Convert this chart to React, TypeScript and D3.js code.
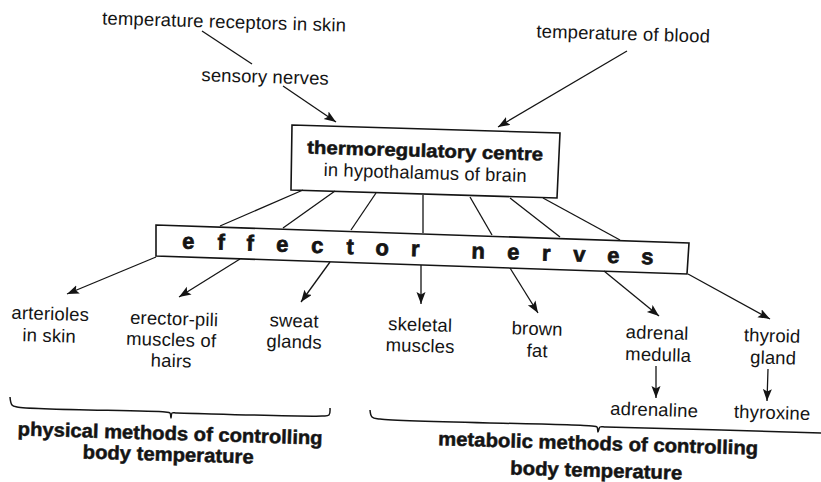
import React from "react";
import * as d3 from "d3";

// ---------- content (text only) ----------
const TOP_LABELS = ["temperature receptors in skin", "sensory nerves", "temperature of blood"];
const CENTRE_LINES = ["thermoregulatory centre", "in hypothalamus of brain"];
const EFFECTOR_LETTERS = ["e", "f", "f", "e", "c", "t", "o", "r", "n", "e", "r", "v", "e", "s"];
const EFFECTORS = [
  ["arterioles", "in skin"],
  ["erector-pili", "muscles of", "hairs"],
  ["sweat", "glands"],
  ["skeletal", "muscles"],
  ["brown", "fat"],
  ["adrenal", "medulla"],
  ["thyroid", "gland"],
];
const PRODUCTS = ["adrenaline", "thyroxine"];
const GROUPS = [
  ["physical methods of controlling", "body temperature"],
  ["metabolic methods of controlling", "body temperature"],
];

// ---------- layout (positions in page pixels) ----------
const W = 821;
const H = 482;
const TILT = 1.7;
const INK = "#141414";

const topLabelPos = [[224, 28], [265, 83], [623, 40]];
const topArrows = [
  { pts: [[202, 31], [252, 64]], head: false },
  { pts: [[283, 86], [336, 122]], head: true },
  { pts: [[627, 51], [498, 127]], head: true },
];
const centreBox = [[292, 125], [560, 133], [557, 198], [291, 190]];
const centreText = [
  { x: 425, y: 157, len: 236 },
  { x: 425, y: 179, len: 203 },
];
const effectorBox = [[156, 225], [689, 243], [687, 274], [156, 256]];
const letterX = [188, 221, 250, 282, 317, 350, 382, 415, 478, 513, 546, 579, 613, 647];
const boxTop = (x: number) => 225 + ((x - 156) * 18) / 533;
const links = [
  [[303, 190], [220, 226]],
  [[335, 191], [283, 228]],
  [[376, 193], [351, 230]],
  [[423, 195], [423, 233]],
  [[470, 197], [492, 235]],
  [[510, 198], [560, 237]],
  [[543, 198], [620, 240]],
];
const effArrows = [
  [[156, 257], [67, 294]],
  [[240, 259], [179, 297]],
  [[330, 262], [301, 302]],
  [[421, 265], [421, 304]],
  [[510, 268], [538, 313]],
  [[604, 271], [659, 316]],
  [[688, 274], [770, 319]],
];
const effLabelPos = [
  [[50, 320], [49, 342]],
  [[174, 325], [171, 346], [171, 367]],
  [[294, 327], [294, 348]],
  [[420, 331], [420, 352]],
  [[537, 335], [537, 357]],
  [[657, 339], [658, 361]],
  [[772, 342], [773, 364]],
];
const productArrows = [
  [[656, 366], [656, 398]],
  [[768, 369], [767, 401]],
];
const productPos = [[654, 416], [772, 419]];
const braces = [
  [[10, 397], [12, 405], [17, 407], [165, 412], [170, 413], [171, 418], [172, 413], [177, 413], [322, 416], [329, 415], [330, 408]],
  [[370, 410], [372, 417], [380, 419], [592, 426], [597, 427], [598, 432], [600, 427], [606, 427], [821, 433]],
];
const groupText = [
  [{ x: 170, y: 440, len: 305 }, { x: 168, y: 461, len: 171 }],
  [{ x: 598, y: 450, len: 320 }, { x: 596, y: 477, len: 172 }],
];

const line = d3.line<number[]>().x((d) => d[0]).y((d) => d[1]);
const braceLine = d3.line<number[]>().x((d) => d[0]).y((d) => d[1]).curve(d3.curveCatmullRom.alpha(0.5));

const FONT = "'Liberation Sans', Arial, Helvetica, sans-serif";

function Label({ x, y, children, size = 18.5, bold = false, len }: any) {
  return (
    <text
      x={x}
      y={y}
      textAnchor="middle"
      transform={`rotate(${TILT} ${x} ${y})`}
      fontFamily={FONT}
      fontSize={size}
      fontWeight={bold ? 700 : 400}
      fill={INK}
      stroke={bold ? INK : "none"}
      strokeWidth={bold ? 0.5 : 0}
      textLength={len}
      lengthAdjust={len ? "spacingAndGlyphs" : undefined}
      letterSpacing={bold ? undefined : 0.15}
    >
      {children}
    </text>
  );
}

export default function App() {
  const poly = (p: number[][]) => p.map((d) => d.join(",")).join(" ");
  return (
    <svg
      width={W}
      height={H}
      viewBox={`0 0 ${W} ${H}`}
      style={{ position: "absolute", left: 0, top: 0, background: "#fff" }}
    >
      <defs>
        <marker id="ah" markerUnits="userSpaceOnUse" markerWidth={14} markerHeight={10} refX={12} refY={4.5} orient="auto">
          <path d="M0,0 L12,4.5 L0,9 L2.5,4.5 Z" fill={INK} />
        </marker>
      </defs>
      <rect width={W} height={H} fill="#fff" />

      {/* top labels */}
      {TOP_LABELS.map((t, i) => (
        <Label key={t} x={topLabelPos[i][0]} y={topLabelPos[i][1]}>{t}</Label>
      ))}
      {topArrows.map((a, i) => (
        <path key={i} d={line(a.pts) || ""} stroke={INK} strokeWidth={1.3} fill="none" markerEnd={a.head ? "url(#ah)" : undefined} />
      ))}

      {/* centre box */}
      <polygon points={poly(centreBox)} fill="#fff" stroke={INK} strokeWidth={1.6} />
      {CENTRE_LINES.map((t, i) => (
        <Label key={t} x={centreText[i].x} y={centreText[i].y} bold={i === 0} size={18.5} len={centreText[i].len}>{t}</Label>
      ))}

      {/* links */}
      {links.map((l, i) => (
        <path key={i} d={line(l) || ""} stroke={INK} strokeWidth={1.3} fill="none" />
      ))}

      {/* effector nerves box */}
      <polygon points={poly(effectorBox)} fill="#fff" stroke={INK} strokeWidth={1.6} />
      {EFFECTOR_LETTERS.map((c, i) => {
        const x = letterX[i];
        const y = boxTop(x) + 22.5;
        return (
          <text key={i} x={x} y={y} textAnchor="middle" transform={`rotate(${TILT} ${x} ${y})`} fontFamily={FONT} fontSize={22} fontWeight={700} fill={INK} stroke={INK} strokeWidth={0.7}>
            {c}
          </text>
        );
      })}

      {/* effector arrows */}
      {effArrows.map((a, i) => (
        <path key={i} d={line(a) || ""} stroke={INK} strokeWidth={1.3} fill="none" markerEnd="url(#ah)" />
      ))}
      {EFFECTORS.map((lines, i) =>
        lines.map((t, j) => (
          <Label key={i + "-" + j} x={effLabelPos[i][j][0]} y={effLabelPos[i][j][1]}>{t}</Label>
        ))
      )}

      {/* products */}
      {productArrows.map((a, i) => (
        <path key={i} d={line(a) || ""} stroke={INK} strokeWidth={1.3} fill="none" markerEnd="url(#ah)" />
      ))}
      {PRODUCTS.map((t, i) => (
        <Label key={t} x={productPos[i][0]} y={productPos[i][1]}>{t}</Label>
      ))}

      {/* braces */}
      {braces.map((b, i) => (
        <path key={i} d={braceLine(b) || ""} stroke={INK} strokeWidth={1.5} fill="none" />
      ))}
      {GROUPS.map((g, i) =>
        g.map((t, j) => (
          <Label key={i + "-" + j} x={groupText[i][j].x} y={groupText[i][j].y} bold size={19.5} len={groupText[i][j].len}>{t}</Label>
        ))
      )}
    </svg>
  );
}
